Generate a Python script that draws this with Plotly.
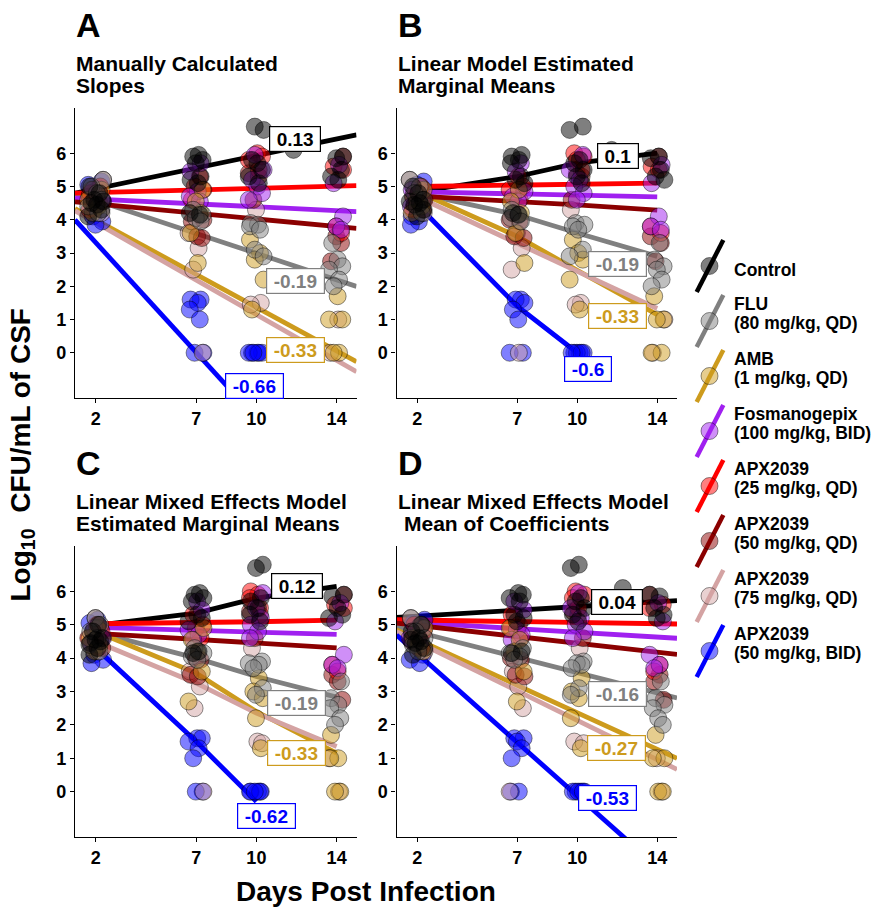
import plotly.graph_objects as go

# ---------------- data ----------------
GROUPS = ["Control", "FLU", "AMB", "Fosmanogepix", "APX2039 25 QD",
          "APX2039 50 QD", "APX2039 75 QD", "APX2039 50 BID"]
LEGEND_LINE1 = ["Control", "FLU", "AMB", "Fosmanogepix", "APX2039",
                "APX2039", "APX2039", "APX2039"]
LEGEND_LINE2 = ["", "(80 mg/kg, QD)", "(1 mg/kg, QD)", "(100 mg/kg, BID)",
                "(25 mg/kg, QD)", "(50 mg/kg, QD)", "(75 mg/kg, QD)",
                "(50 mg/kg, BID)"]
COLORS = ["#000000", "#808080", "#CD9B1D", "#A020F0", "#FF0000",
          "#8B0000", "#D4A3A3", "#0000FF"]

DAY_TICKS = [2, 7, 10, 14]
Y_TICKS = [0, 1, 2, 3, 4, 5, 6]

# log10 CFU/mL per mouse, by day post infection
cfu_control = {2: [5.0, 4.8, 4.6, 4.55, 4.5, 4.45, 4.3, 4.1],
               7: [5.95, 5.9, 5.8, 5.7, 5.3, 5.2, 5.1, 4.2, 4.15],
               10: [6.8, 6.7, 5.8, 5.7, 5.5, 5.3, 5.1],
               12: [6.1],
               14: [5.9, 5.85, 5.5, 5.3, 5.2]}
cfu_flu = {2: [5.2, 5.0, 4.8, 4.6, 4.4, 4.2],
           7: [4.3, 4.15, 4.05, 3.95],
           10: [3.9, 3.85, 3.8, 3.7, 3.1, 2.9],
           14: [3.3, 2.8, 2.6, 2.5, 2.2, 2.0]}
cfu_amb = {2: [4.9, 4.6, 4.4, 4.2],
           7: [4.9, 4.55, 4.2, 3.6, 2.7],
           10: [3.4, 3.0, 2.8, 2.2, 1.3],
           14: [1.7, 1.0, 1.0, 0.0, 0.0]}
cfu_fos = {2: [4.9, 4.6, 4.4],
           7: [5.7, 5.45, 4.85, 4.7, 4.55],
           10: [5.95, 5.5, 5.2, 5.0, 4.8, 4.6],
           14: [5.65, 5.1, 4.1, 3.8, 3.7]}
cfu_apx25 = {2: [5.0, 4.8, 4.6, 4.3],
             7: [5.3, 5.0, 4.9, 4.6],
             10: [6.0, 5.9, 5.8, 5.5],
             14: [5.6, 5.5, 3.8, 3.6]}
cfu_apx50 = {2: [4.7, 4.5, 4.3],
             7: [4.0, 3.95, 3.5, 3.45],
             10: [5.4, 5.3, 4.6],
             14: [5.9, 3.5, 3.3, 2.75]}
cfu_apx75 = {2: [5.2, 4.9, 4.4, 4.2],
             7: [3.6, 3.15, 2.5, 0.0],
             10: [4.3, 1.5, 1.45],
             14: [1.0, 0.0]}
cfu_bid = {2: [5.15, 5.05, 4.95, 4.1, 3.95, 3.85],
           7: [1.6, 1.6, 1.5, 1.3, 1.0, 0.0, 0.0],
           10: [0.0, 0.0, 0.0, 0.0, 0.0, 0.0]}
CFU = [cfu_control, cfu_flu, cfu_amb, cfu_fos, cfu_apx25, cfu_apx50,
       cfu_apx75, cfu_bid]

# Panel A: manually calculated slopes (intercept at day 0, slope per day)
a_intercept = [4.68, 4.98, 4.65, 4.68, 4.784, 4.594, 4.60, 4.63]
a_slope = [0.125, -0.199, -0.328, -0.029, 0.016, -0.057, -0.345, -0.66]

# Panel B: linear model estimated marginal means at each day
b_days = [[2, 7, 10, 14]] * 7 + [[2, 7, 10]]
b_means = [[4.84, 5.30, 5.70, 6.00], [4.80, 4.15, 3.60, 2.90],
           [4.85, 3.50, 2.48, 1.15], [4.84, 4.79, 4.75, 4.69],
           [5.00, 5.03, 5.06, 5.10], [4.71, 4.55, 4.45, 4.29],
           [4.69, 3.29, 2.45, 1.33], [4.45, 1.40, 0.00]]

# Panel C: linear mixed effects model estimated marginal means
c_days = [[2, 7, 10, 14]] * 7 + [[2, 7, 10]]
c_means = [[4.98, 5.35, 5.80, 6.15], [4.78, 4.00, 3.45, 2.83],
           [4.80, 3.55, 2.40, 1.15], [4.92, 4.84, 4.79, 4.71],
           [5.03, 5.06, 5.09, 5.14], [4.74, 4.57, 4.46, 4.31],
           [4.50, 3.25, 2.35, 1.35], [4.30, 1.50, -0.30]]

# Panel D: mean of mixed-model coefficients (intercept at day 0, slope)
d_intercept = [5.185, 5.087, 5.105, 5.135, 5.158, 5.115, 5.074, 5.205]
d_slope = [0.036, -0.152, -0.274, -0.036, -0.009, -0.067, -0.294, -0.533]

# slope labels: (group index, day, value, text)
labels_a = [(0, 11.93, 6.43, "0.13"), (1, 11.93, 2.15, "-0.19"),
            (2, 11.93, 0.08, "-0.33"), (7, 9.90, -0.99, "-0.66")]
labels_b = [(0, 12.05, 5.91, "0.1"), (1, 12.00, 2.67, "-0.19"),
            (2, 12.00, 1.11, "-0.33"), (7, 10.53, -0.49, "-0.6")]
labels_c = [(0, 12.02, 6.15, "0.12"), (1, 11.98, 2.67, "-0.19"),
            (2, 11.98, 1.15, "-0.33"), (7, 10.50, -0.73, "-0.62")]
labels_d = [(0, 12.00, 5.67, "0.04"), (1, 12.00, 2.93, "-0.16"),
            (2, 11.98, 1.31, "-0.27"), (7, 11.50, -0.19, "-0.53")]
LABELS = [labels_a, labels_b, labels_c, labels_d]

PANEL_LETTERS = ["A", "B", "C", "D"]
PANEL_TITLES = [["Manually Calculated", "Slopes"],
                ["Linear Model Estimated", "Marginal Means"],
                ["Linear Mixed Effects Model", "Estimated Marginal Means"],
                ["Linear Mixed Effects Model", "Mean of Coefficients"]]

# horizontal jitter offsets (days) for the point clouds
JITTER = [-0.32, 0.18, -0.08, 0.36, -0.22, 0.05, 0.28, -0.38, 0.12,
          -0.15, 0.32, -0.02, 0.22, -0.28, 0.08]

# ---------------- layout geometry ----------------
W, H = 874, 908
X_RANGE = [0.96, 14.99]
Y_RANGE = [-1.36, 7.36]
PANEL_LEFT = [75, 396.5, 75, 396.5]
PANEL_RIGHT = [356.5, 677, 356.5, 677]
PANEL_TOP = [108, 108, 546, 546]
PANEL_BOTTOM = [398, 398, 837, 837]
FONT = "Liberation Sans, Arial, Helvetica, sans-serif"


def px(x):
    return x / W


def py(y):
    return 1 - y / H


def rgba(hexcol, a):
    h = hexcol.lstrip("#")
    r, g, b = int(h[0:2], 16), int(h[2:4], 16), int(h[4:6], 16)
    return f"rgba({r},{g},{b},{a})"


def text_em(s):
    w = {"0": .556, "1": .556, "2": .556, "3": .556, "4": .556, "5": .556,
         "6": .556, "7": .556, "8": .556, "9": .556, ".": .278, "-": .333}
    return sum(w.get(c, .556) for c in s)


fig = go.Figure()
layout = dict(width=W, height=H, margin=dict(l=0, r=0, t=0, b=0),
              paper_bgcolor="white", plot_bgcolor="white", showlegend=False,
              font=dict(family=FONT, color="black"))

annotations = []
shapes = []

for p in range(4):
    sfx = "" if p == 0 else str(p + 1)
    xa, ya = "x" + sfx, "y" + sfx
    axis_common = dict(showline=True, linecolor="black", linewidth=1.3,
                       ticks="outside", ticklen=4, tickwidth=1.2,
                       tickcolor="black", showgrid=False, zeroline=False,
                       tickfont=dict(family=FONT, size=18, color="black",
                                     weight="bold"))
    layout["xaxis" + sfx] = dict(
        domain=[px(PANEL_LEFT[p]), px(PANEL_RIGHT[p])], range=X_RANGE,
        anchor=ya, tickmode="array", tickvals=DAY_TICKS,
        ticktext=[str(d) for d in DAY_TICKS], **axis_common)
    layout["yaxis" + sfx] = dict(
        domain=[py(PANEL_BOTTOM[p]), py(PANEL_TOP[p])], range=Y_RANGE,
        anchor=xa, tickmode="array", tickvals=Y_TICKS,
        ticktext=[str(v) for v in Y_TICKS], **axis_common)

    # regression / marginal-mean lines
    for g in range(len(GROUPS)):
        if p == 0:
            xs = X_RANGE
            ys = [a_intercept[g] + a_slope[g] * x for x in xs]
        elif p == 3:
            xs = X_RANGE
            ys = [d_intercept[g] + d_slope[g] * x for x in xs]
        elif p == 1:
            xs, ys = b_days[g], b_means[g]
        else:
            xs, ys = c_days[g], c_means[g]
        fig.add_trace(go.Scatter(x=xs, y=ys, mode="lines", xaxis=xa,
                                 yaxis=ya, hoverinfo="skip",
                                 line=dict(color=COLORS[g], width=4.8)))

    # jittered points (control drawn last so it sits on top)
    for g in reversed(range(len(GROUPS))):
        xs, ys = [], []
        k = 0
        for day, vals in CFU[g].items():
            for v in vals:
                j = JITTER[(k + 4 * p + 3 * g) % len(JITTER)]
                xs.append(day + j)
                ys.append(v)
                k += 1
        fig.add_trace(go.Scatter(
            x=xs, y=ys, mode="markers", xaxis=xa, yaxis=ya,
            name=GROUPS[g],
            marker=dict(size=17, color=rgba(COLORS[g], 0.5),
                        line=dict(color="rgba(0,0,0,0.55)", width=0.8))))

    # slope labels
    for (g, xd, yv, txt) in LABELS[p]:
        tw = text_em(txt) * 19
        annotations.append(dict(
            x=xd, y=yv, xref=xa, yref=ya, text=f"<b>{txt}</b>",
            showarrow=False, xanchor="center", yanchor="middle",
            font=dict(family=FONT, size=19, color=COLORS[g]),
            bgcolor="white", bordercolor=COLORS[g], borderwidth=1.2,
            borderpad=2, width=tw + 9, height=20))

    # panel letter and title
    row_top = PANEL_TOP[p]
    annotations.append(dict(
        x=px(PANEL_LEFT[p] - 1), y=py(row_top - 83), xref="paper",
        yref="paper", text=f"<b>{PANEL_LETTERS[p]}</b>", showarrow=False,
        xanchor="left", yanchor="middle",
        font=dict(family=FONT, size=34, color="black")))
    for li, line in enumerate(PANEL_TITLES[p]):
        xoff = 6 if (p == 3 and li == 1) else 0
        annotations.append(dict(
            x=px(PANEL_LEFT[p] - 1 + xoff),
            y=py(row_top - 44.5 + 22 * li), xref="paper", yref="paper",
            text=f"<b>{line}</b>", showarrow=False, xanchor="left",
            yanchor="middle", font=dict(family=FONT, size=21, color="black")))

# axis titles
annotations.append(dict(
    x=px(366), y=py(891), xref="paper", yref="paper",
    text="<b>Days Post Infection</b>", showarrow=False, xanchor="center",
    yanchor="middle", font=dict(family=FONT, size=28, color="black")))
annotations.append(dict(
    x=px(22.5), y=py(455), xref="paper", yref="paper",
    text="<b>Log<sub>10</sub>  CFU/mL of CSF</b>", showarrow=False,
    textangle=-90, xanchor="center", yanchor="middle",
    font=dict(family=FONT, size=28, color="black")))

# legend (drawn as keys: slanted line with a point)
for g in range(len(GROUPS)):
    c = 266 + 55 * g
    shapes.append(dict(type="line", xref="paper", yref="paper",
                       x0=px(696.7), y0=py(c + 26), x1=px(723.3),
                       y1=py(c - 26),
                       line=dict(color=COLORS[g], width=4.5)))
    shapes.append(dict(type="circle", xref="paper", yref="paper",
                       x0=px(709.5 - 8.5), x1=px(709.5 + 8.5),
                       y0=py(c + 8.5), y1=py(c - 8.5),
                       fillcolor=rgba(COLORS[g], 0.5),
                       line=dict(color="rgba(0,0,0,0.55)", width=0.8)))
    if LEGEND_LINE2[g]:
        lines = [(LEGEND_LINE1[g], c - 17), (LEGEND_LINE2[g], c + 2)]
    else:
        lines = [(LEGEND_LINE1[g], c + 3.5)]
    for txt, yy in lines:
        annotations.append(dict(
            x=px(732), y=py(yy), xref="paper", yref="paper",
            text=f"<b>{txt}</b>", showarrow=False, xanchor="left",
            yanchor="middle", font=dict(family=FONT, size=17.5,
                                        color="black")))

layout["annotations"] = annotations
layout["shapes"] = shapes
fig.update_layout(**layout)
fig.write_html(
    "out.html",
    config={"displayModeBar": False},
    post_script="document.body.style.margin='0';"
                "document.body.style.padding='0';"
                "document.documentElement.style.overflow='hidden';")
